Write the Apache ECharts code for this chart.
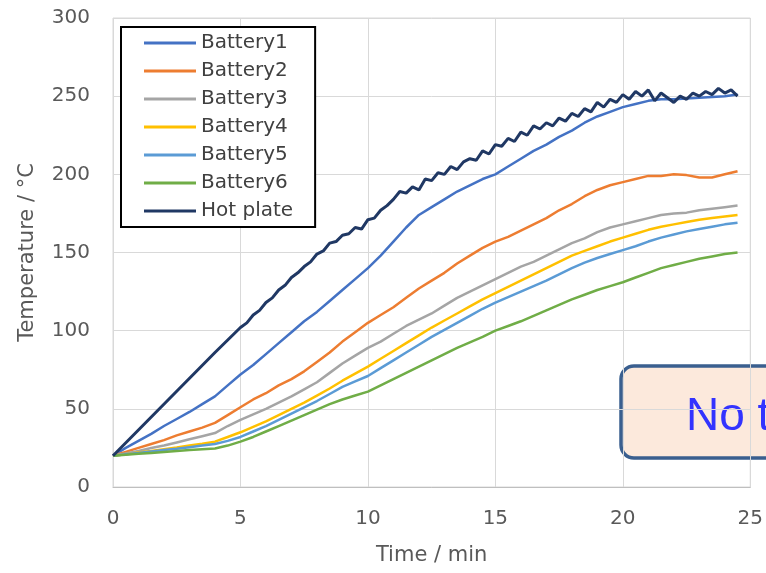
<!DOCTYPE html>
<html>
<head>
<meta charset="utf-8">
<script src="https://cdn.jsdelivr.net/npm/echarts@6/dist/echarts.min.js"></script>
<style>
  html, body { margin: 0; padding: 0; background: #fff; }
  #chart { width: 766px; height: 573px; }
</style>
</head>
<body>
<div id="chart"></div>
<script>
// time axis (min) for the battery probes, every 0.5 min
const timeBat = [0, 0.5, 1, 1.5, 2, 2.5, 3, 3.5, 4, 4.5, 5, 5.5, 6, 6.5, 7, 7.5, 8, 8.5, 9, 9.5,
  10, 10.5, 11, 11.5, 12, 12.5, 13, 13.5, 14, 14.5, 15, 15.5, 16, 16.5, 17, 17.5, 18, 18.5, 19, 19.5,
  20, 20.5, 21, 21.5, 22, 22.5, 23, 23.5, 24, 24.5];

const battery1 = [20, 25, 29.5, 34, 39, 43.5, 48, 53, 58, 65, 72, 78, 85, 92, 99, 106, 112, 119, 126, 133,
  140, 148, 157, 166, 174, 179, 184, 189, 193, 197, 200, 205, 210, 215, 219, 224, 228, 233, 237, 240,
  243, 245, 247, 248, 248, 248.5, 249, 249.5, 250, 251];
const battery2 = [20, 22.5, 25, 27.5, 30, 33, 35.5, 38, 41, 46, 51, 56, 60, 65, 69, 74, 80, 86, 93, 99,
  105, 110, 115, 121, 127, 132, 137, 143, 148, 153, 157, 160, 164, 168, 172, 177, 181, 186, 190, 193,
  195, 197, 199, 199, 200, 199.5, 198, 198, 200, 202];
const battery3 = [20, 21.5, 23, 25, 26.5, 28.5, 30.5, 32.5, 34.5, 39, 43, 46.5, 50, 54, 58, 62.5, 67, 73, 79, 84,
  89, 93, 98, 103, 107, 111, 116, 121, 125, 129, 133, 137, 141, 144, 148, 152, 156, 159, 163, 166,
  168, 170, 172, 174, 175, 175.5, 177, 178, 179, 180];
const battery4 = [20, 21, 22, 23, 24.2, 25.3, 26.5, 27.7, 29, 32, 35, 38.5, 42, 46, 50, 54, 58.5, 63, 68, 72.5,
  77, 82, 87, 92, 97, 102, 106.5, 111, 115.5, 120, 124, 128, 132, 136, 140, 144, 148, 151, 154, 157,
  159.5, 162, 164.5, 166.5, 168, 169.5, 171, 172, 173, 174];
const battery5 = [20, 21, 21.8, 22.7, 23.6, 24.5, 25.5, 26.5, 27.5, 29.5, 32, 35.5, 39, 43, 47, 51, 55, 59.5, 64, 67.5,
  71, 76, 81, 86, 91, 96, 100.5, 105, 109.5, 114, 118, 121.5, 125, 128.5, 132, 136, 140, 143.5, 146.5, 149,
  151.5, 154, 157, 159.5, 161.5, 163.5, 165, 166.5, 168, 169];
const battery6 = [20, 20.6, 21.2, 21.8, 22.4, 23, 23.6, 24.1, 24.6, 26.5, 29, 32, 35.5, 39, 42.5, 46, 49.5, 53, 56, 58.5,
  61, 65, 69, 73, 77, 81, 85, 89, 92.5, 96, 100, 103, 106, 109.5, 113, 116.5, 120, 123, 126, 128.5,
  131, 134, 137, 140, 142, 144, 146, 147.5, 149, 150];

// hot plate logged more densely (0.25 min after the ramp start)
const timePlate = [0, 4, 4.25, 4.5, 4.75, 5, 5.25, 5.5, 5.75, 6, 6.25, 6.5, 6.75, 7, 7.25, 7.5, 7.75, 8, 8.25, 8.5, 8.75,
  9, 9.25, 9.5, 9.75, 10, 10.25, 10.5, 10.75, 11, 11.25, 11.5, 11.75, 12, 12.25, 12.5, 12.75, 13, 13.25, 13.5, 13.75,
  14, 14.25, 14.5, 14.75, 15, 15.25, 15.5, 15.75, 16, 16.25, 16.5, 16.75, 17, 17.25, 17.5, 17.75, 18, 18.25, 18.5, 18.75,
  19, 19.25, 19.5, 19.75, 20, 20.25, 20.5, 20.75, 21, 21.25, 21.5, 21.75, 22, 22.25, 22.5, 22.75, 23, 23.25, 23.5, 23.75,
  24, 24.25, 24.5];
const hotPlate = [20, 86, 90, 94, 98, 102, 105, 110, 113, 118, 121, 126, 129, 134, 137, 141, 144, 149, 151, 156, 157,
  161, 162, 166, 165, 171, 172, 177, 180, 184, 189, 188, 192, 190, 197, 196, 201, 200, 205, 203, 208,
  210, 209, 215, 213, 219, 218, 223, 221, 227, 225, 231, 229, 233, 231, 236, 234, 239, 237, 242, 240,
  246, 243, 248, 246, 251, 248, 253, 250, 254, 247, 252, 249, 246, 250, 248, 252, 250, 253, 251, 255,
  252, 254, 250];

const names = ["Battery1", "Battery2", "Battery3", "Battery4", "Battery5", "Battery6", "Hot plate"];
const colors = ["#4472c4", "#ed7d31", "#a5a5a5", "#ffc000", "#5b9bd5", "#70ad47", "#203864"];

function pairs(xs, ys) {
  return xs.map((x, i) => [x, ys[i]]);
}

const chart = echarts.init(document.getElementById("chart"));
const font = "DejaVu Sans";

const seriesData = [
  pairs(timeBat, battery1),
  pairs(timeBat, battery2),
  pairs(timeBat, battery3),
  pairs(timeBat, battery4),
  pairs(timeBat, battery5),
  pairs(timeBat, battery6),
  pairs(timePlate, hotPlate),
];

const option = {
  animation: false,
  backgroundColor: "#fff",
  grid: {
    left: 113,
    right: 14,
    top: 18,
    bottom: 86,
    show: true,
    borderColor: "#d9d9d9",
    borderWidth: 1,
  },
  legend: {
    orient: "vertical",
    left: 121,
    top: 27,
    padding: [5, 22, 5, 23],
    itemGap: 6,
    itemWidth: 52,
    itemHeight: 3,
    icon: "rect",
    borderColor: "#000",
    borderWidth: 2,
    backgroundColor: "#fff",
    data: names,
    textStyle: {
      fontFamily: font,
      fontSize: 20,
      color: "#404040",
      lineHeight: 22,
    },
  },
  xAxis: {
    type: "value",
    min: 0,
    max: 25,
    interval: 5,
    name: "Time / min",
    nameLocation: "middle",
    nameGap: 58,
    nameTextStyle: { fontFamily: font, fontSize: 21, color: "#595959" },
    axisLine: { show: true, lineStyle: { color: "#bfbfbf", width: 1 } },
    axisTick: { show: false },
    axisLabel: { fontFamily: font, fontSize: 20, color: "#595959", margin: 22 },
    splitLine: { show: true, lineStyle: { color: "#d9d9d9", width: 1 } },
  },
  yAxis: {
    type: "value",
    min: 0,
    max: 300,
    interval: 50,
    name: "Temperature / \u00b0C",
    nameLocation: "middle",
    nameGap: 75,
    nameTextStyle: { fontFamily: font, fontSize: 21, color: "#595959" },
    axisLine: { show: false },
    axisTick: { show: false },
    axisLabel: { fontFamily: font, fontSize: 20, color: "#595959", margin: 23 },
    splitLine: { show: true, lineStyle: { color: "#d9d9d9", width: 1 } },
  },
  series: names.map((n, i) => ({
    name: n,
    type: "line",
    data: seriesData[i],
    showSymbol: false,
    symbol: "none",
    color: colors[i],
    lineStyle: { width: i === 6 ? 3 : 2.5, color: colors[i] },
    z: 2 + i,
  })),
  graphic: [
    {
      type: "group",
      z: 100,
      children: [
        {
          type: "rect",
          shape: { x: 621, y: 366, width: 200, height: 92, r: 13 },
          style: { fill: "#fce9dc", stroke: "#3a5f8f", lineWidth: 3.5 },
        },
        {
          type: "text",
          x: 686,
          y: 394,
          style: {
            text: "No thermal runaway",
            font: "46px 'Liberation Sans'",
            fill: "#3333ff",
          },
        },
      ],
    },
  ],
};

chart.setOption(option);
</script>
</body>
</html>
